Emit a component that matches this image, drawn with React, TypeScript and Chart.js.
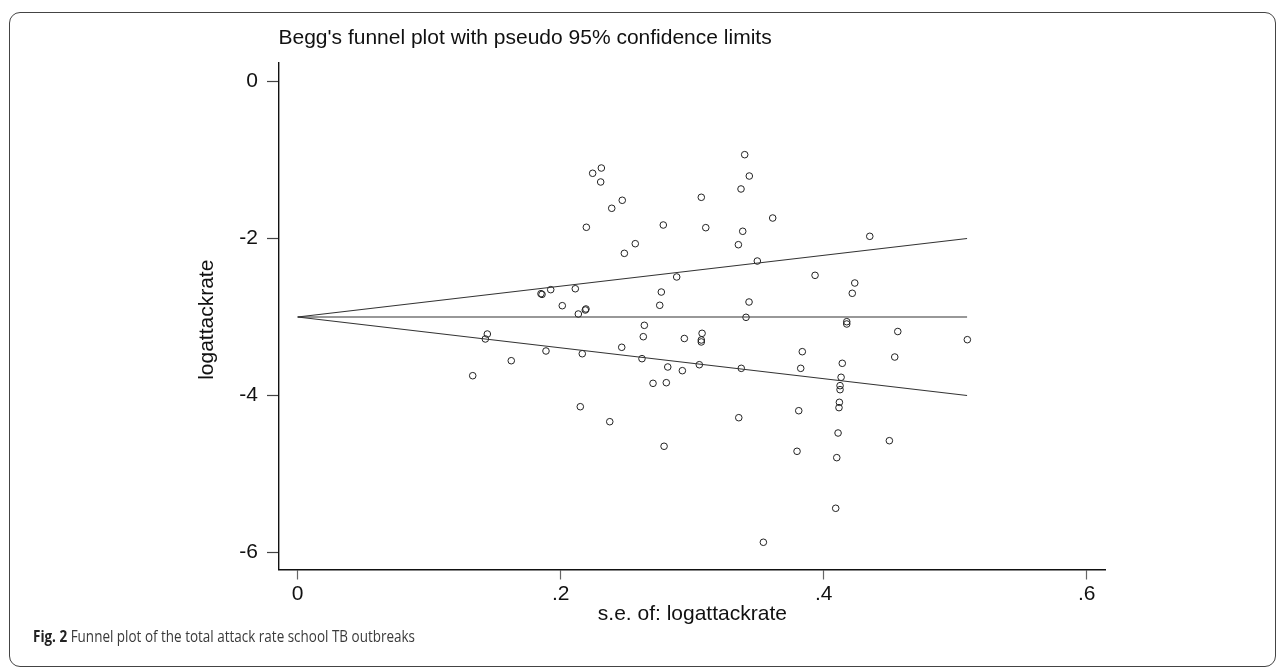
import React, { useEffect, useLayoutEffect, useRef } from "react";
import { Chart, registerables } from "chart.js";

Chart.register(...registerables);

// ---- data ----
const seValues = [
  0.2243, 0.2309, 0.2304, 0.2468, 0.2388, 0.2195, 0.2567, 0.2484, 0.185, 0.1858,
  0.1924, 0.2111, 0.2012, 0.2187, 0.2192, 0.2134, 0.1442, 0.1427, 0.2636, 0.2628,
  0.3399, 0.3434, 0.3371, 0.3069, 0.3612, 0.278, 0.3103, 0.3384, 0.3351, 0.3495,
  0.2882, 0.3934, 0.2765, 0.2753, 0.3432, 0.3409, 0.294, 0.3075, 0.3069, 0.3069,
  0.435, 0.4236, 0.4217, 0.4175, 0.4175, 0.4563, 0.5092,
  0.1888, 0.2164, 0.2464, 0.2618, 0.1624, 0.1331, 0.2149, 0.2373,
  0.3837, 0.2814, 0.2925, 0.3054, 0.3373, 0.3825, 0.2702, 0.2803, 0.3354, 0.381,
  0.2786, 0.3797, 0.3541,
  0.4141, 0.454, 0.4132, 0.4124, 0.4124, 0.4119, 0.4116, 0.4109, 0.4499, 0.4099, 0.4091,
];
const logAttackRate = [
  -1.169, -1.102, -1.28, -1.513, -1.615, -1.857, -2.066, -2.189, -2.703, -2.712,
  -2.652, -2.64, -2.856, -2.911, -2.898, -2.962, -3.217, -3.28, -3.106, -3.251,
  -0.932, -1.204, -1.369, -1.475, -1.739, -1.828, -1.862, -1.908, -2.079, -2.287,
  -2.49, -2.469, -2.682, -2.851, -2.809, -3.004, -3.274, -3.208, -3.293, -3.318,
  -1.972, -2.567, -2.698, -3.06, -3.089, -3.185, -3.289,
  -3.433, -3.468, -3.386, -3.531, -3.557, -3.748, -4.143, -4.334,
  -3.442, -3.637, -3.684, -3.608, -3.654, -3.654, -3.845, -3.837, -4.283, -4.194,
  -4.647, -4.711, -5.87,
  -3.59, -3.51, -3.768, -3.875, -3.926, -4.087, -4.155, -4.478, -4.576, -4.792, -5.437,
];

const funnelSe = [0, 0.509];
const pooledLine = [-3.0, -3.0];
const upperLimit = [-3.0, -2.0];
const lowerLimit = [-3.0, -4.0];

const xTickValues = [0, 0.2, 0.4, 0.6];
const xTickLabels = ["0", ".2", ".4", ".6"];
const yTickValues = [-6, -4, -2, 0];
const yTickLabels = ["-6", "-4", "-2", "0"];

const xRange = [-0.0142, 0.6144];
const yRange = [-6.217, 0.236];

const chartTitle = "Begg's funnel plot with pseudo 95% confidence limits";
const xAxisTitle = "s.e. of: logattackrate";
const yAxisTitle = "logattackrate";
const captionBold = "Fig. 2";
const captionText = " Funnel plot of the total attack rate school TB outbreaks";

const W = 1285;
const H = 668;
const FONT = '"Liberation Sans", Arial, sans-serif';

const textPlugin = {
  id: "stataText",
  afterDraw(chart: any) {
    const { ctx, chartArea } = chart;
    ctx.save();
    ctx.fillStyle = "#111";
    ctx.font = `21px ${FONT}`;
    ctx.textBaseline = "alphabetic";
    ctx.textAlign = "left";
    ctx.fillText(chartTitle, chartArea.left - 0.5, 44);
    ctx.textAlign = "center";
    ctx.fillText(xAxisTitle, (chartArea.left + chartArea.right) / 2, chartArea.bottom + 50.5);
    ctx.translate(chartArea.left - 66, (chartArea.top + chartArea.bottom) / 2 + 3.5);
    ctx.rotate(-Math.PI / 2);
    ctx.fillText(yAxisTitle, 0, 0);
    ctx.restore();
  },
};

export default function App() {
  const canvasRef = useRef<HTMLCanvasElement | null>(null);
  const capRef = useRef<HTMLDivElement | null>(null);

  useLayoutEffect(() => {
    const el = capRef.current;
    if (el) {
      el.style.transform = "none";
      const w = el.scrollWidth;
      if (w > 0) el.style.transform = `scaleX(${382 / w})`;
    }
  }, []);

  useEffect(() => {
    const canvas = canvasRef.current;
    if (!canvas) return;
    const lineDs = (vals: number[]) => ({
      type: "line" as const,
      data: funnelSe.map((x, i) => ({ x, y: vals[i] })),
      borderColor: "#333",
      borderWidth: 1.2,
      pointRadius: 0,
      fill: false,
      tension: 0,
    });
    const chart = new Chart(canvas, {
      type: "scatter",
      data: {
        datasets: [
          lineDs(pooledLine),
          lineDs(upperLimit),
          lineDs(lowerLimit),
          {
            type: "scatter" as const,
            data: seValues.map((x, i) => ({ x, y: logAttackRate[i] })),
            pointRadius: 3.3,
            pointBorderWidth: 1,
            pointBorderColor: "#222",
            pointBackgroundColor: "rgba(0,0,0,0)",
            showLine: false,
          } as any,
        ],
      },
      options: {
        responsive: false,
        animation: false,
        events: [],
        layout: { padding: { left: 0, top: 63, right: W - 1105.7, bottom: H - 569.5 - 60 } },
        plugins: { legend: { display: false }, tooltip: { enabled: false }, title: { display: false } },
        scales: {
          x: {
            type: "linear",
            min: xRange[0],
            max: xRange[1],
            afterFit: (s: any) => { s.height = 60; },
            afterBuildTicks: (s: any) => { s.ticks = xTickValues.map((v) => ({ value: v })); },
            ticks: {
              autoSkip: false,
              maxRotation: 0,
              padding: 2,
              color: "#111",
              font: { family: FONT, size: 21 },
              callback: (v: any) => {
                const i = xTickValues.findIndex((t) => Math.abs(t - Number(v)) < 1e-9);
                return i >= 0 ? xTickLabels[i] : "";
              },
            },
            grid: { display: true, drawOnChartArea: false, drawTicks: true, tickLength: 10, tickColor: "#666", tickWidth: 1.2 },
            border: { display: true, color: "#111", width: 1.4 },
          },
          y: {
            type: "linear",
            min: yRange[0],
            max: yRange[1],
            afterFit: (s: any) => { s.width = 279; },
            afterBuildTicks: (s: any) => { s.ticks = yTickValues.map((v) => ({ value: v })); },
            ticks: {
              autoSkip: false,
              padding: 9,
              color: "#111",
              font: { family: FONT, size: 21 },
              callback: (v: any) => {
                const i = yTickValues.findIndex((t) => Math.abs(t - Number(v)) < 1e-9);
                return i >= 0 ? yTickLabels[i] : "";
              },
            },
            grid: { display: true, drawOnChartArea: false, drawTicks: true, tickLength: 12, tickColor: "#444", tickWidth: 1.2 },
            border: { display: true, color: "#111", width: 1.4 },
          },
        },
      },
      plugins: [textPlugin],
    } as any);
    return () => chart.destroy();
  }, []);

  return (
    <div style={{ position: "absolute", left: 0, top: 0, width: W, height: H, overflow: "hidden", background: "#fff" }}>
      <div
        style={{
          position: "absolute",
          left: 9,
          top: 12,
          width: 1267,
          height: 655,
          boxSizing: "border-box",
          border: "1.5px solid #444",
          borderRadius: 11,
        }}
      />
      <canvas ref={canvasRef} width={W} height={H} style={{ position: "absolute", left: 0, top: 0, width: W, height: H }} />
      <div
        ref={capRef}
        style={{
          position: "absolute",
          left: 33,
          top: 628,
          whiteSpace: "nowrap",
          fontFamily: '"Open Sans", sans-serif',
          fontSize: 15.8,
          lineHeight: "16px",
          color: "#3a3a3a",
          transformOrigin: "left top",
        }}
      >
        <span style={{ fontWeight: 700, color: "#222" }}>{captionBold}</span>
        {captionText}
      </div>
    </div>
  );
}
